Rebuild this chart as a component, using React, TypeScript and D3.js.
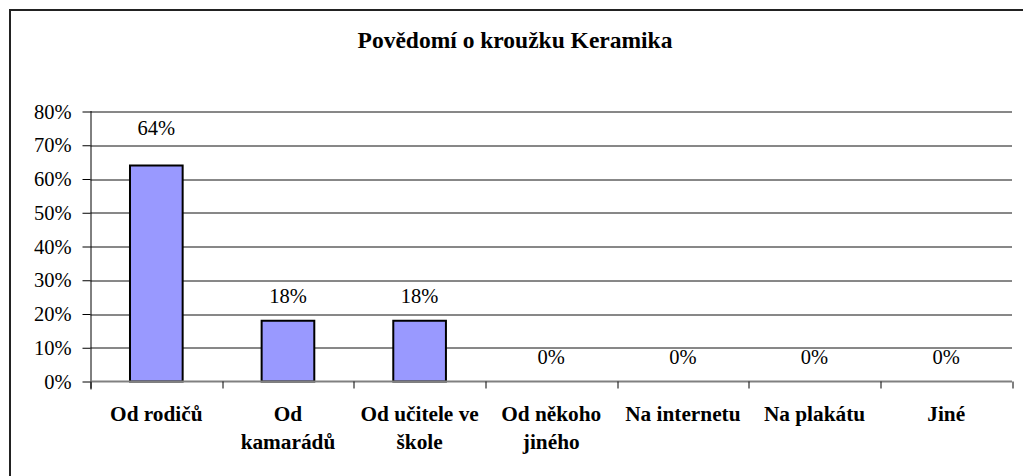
import { useEffect, useRef } from "react"
import * as d3 from "d3"

const title = "Povědomí o kroužku Keramika"
const categories = [
  "Od rodičů",
  "Od\nkamarádů",
  "Od učitele ve\nškole",
  "Od někoho\njiného",
  "Na internetu",
  "Na plakátu",
  "Jiné",
]
const values = [0.64, 0.18, 0.18, 0, 0, 0, 0]
const yTicks = [0, 0.1, 0.2, 0.3, 0.4, 0.5, 0.6, 0.7, 0.8]

const FONT = '"Liberation Serif", "Times New Roman", serif'

export default function App() {
  const svgRef = useRef<SVGSVGElement>(null)

  useEffect(() => {
    if (!svgRef.current) return
    const W = 1023
    const H = 476
    const margin = { top: 111.5, right: 11, bottom: 94.5, left: 90.5 }
    const innerW = W - margin.left - margin.right
    const innerH = H - margin.top - margin.bottom

    const svg = d3.select(svgRef.current)
    svg.selectAll("*").remove()
    svg.attr("width", W).attr("height", H)

    svg.append("rect").attr("width", W).attr("height", H).attr("fill", "#fff")

    // outer chart border, cut off at the right and bottom
    svg
      .append("rect")
      .attr("x", 10)
      .attr("y", 10)
      .attr("width", W + 20)
      .attr("height", H + 20)
      .attr("fill", "none")
      .attr("stroke", "#222")
      .attr("stroke-width", 2)

    svg
      .append("text")
      .attr("x", 515)
      .attr("y", 48)
      .attr("text-anchor", "middle")
      .style("font-family", FONT)
      .style("font-weight", "bold")
      .style("font-size", "23.5px")
      .text(title)

    const g = svg.append("g").attr("transform", `translate(${margin.left},${margin.top})`)

    const x = d3.scaleBand().domain(categories).range([0, innerW]).paddingInner(0.6).paddingOuter(0.3)
    const band = d3.scaleBand().domain(categories).range([0, innerW])
    const y = d3.scaleLinear().domain([0, 0.8]).range([innerH, 0])

    // Grid lines
    g.append("g")
      .selectAll("line")
      .data(yTicks.filter((d) => d > 0))
      .join("line")
      .attr("x1", 0)
      .attr("x2", innerW)
      .attr("y1", (d) => Math.round(y(d)) + 0.5)
      .attr("y2", (d) => Math.round(y(d)) + 0.5)
      .attr("stroke", "#111")

    // Y axis
    const yAxis = g
      .append("g")
      .call(d3.axisLeft(y).tickValues(yTicks).tickSize(8).tickPadding(11).tickFormat(d3.format(".0%")))
    yAxis.select(".domain").attr("stroke", "#000").attr("d", `M0.5,-0.5V${innerH + 8}`)
    yAxis.selectAll(".tick line").attr("stroke", "#000")
    yAxis
      .selectAll("text")
      .attr("fill", "#000")
      .style("font-family", FONT)
      .style("font-size", "20.5px")

    // Bars
    g.selectAll(".bar")
      .data(values)
      .join("rect")
      .attr("class", "bar")
      .attr("x", (_, i) => x(categories[i]) ?? 0)
      .attr("width", x.bandwidth())
      .attr("y", (d) => y(d))
      .attr("height", (d) => innerH - y(d))
      .attr("fill", "#9999ff")
      .attr("stroke", "#000")
      .attr("stroke-width", 2)

    // X axis
    g.append("line")
      .attr("x1", 0)
      .attr("x2", innerW)
      .attr("y1", innerH)
      .attr("y2", innerH)
      .attr("stroke", "#808080")
      .attr("stroke-width", 2)
    g.append("g")
      .selectAll("line")
      .data(d3.range(categories.length + 1))
      .join("line")
      .attr("x1", (i) => Math.round(i * band.step()) + 0.5)
      .attr("x2", (i) => Math.round(i * band.step()) + 0.5)
      .attr("y1", innerH)
      .attr("y2", innerH + 7)
      .attr("stroke", "#000")

    // Category labels
    const labels = g
      .append("g")
      .selectAll("text")
      .data(categories)
      .join("text")
      .attr("x", (d) => (band(d) ?? 0) + band.bandwidth() / 2)
      .attr("y", innerH + 39.5)
      .attr("text-anchor", "middle")
      .style("font-family", FONT)
      .style("font-weight", "bold")
      .style("font-size", "21.3px")
    labels
      .selectAll("tspan")
      .data((d) => d.split("\n"))
      .join("tspan")
      .attr("x", function () {
        return (this.parentNode as SVGTextElement).getAttribute("x")
      })
      .attr("dy", (_, i) => (i === 0 ? 0 : 28))
      .text((d) => d)

    // Value labels
    g.append("g")
      .selectAll("text")
      .data(values)
      .join("text")
      .attr("x", (_, i) => (band(categories[i]) ?? 0) + band.bandwidth() / 2)
      .attr("y", (d) => y(d) - (d > 0.5 ? 31 : 17.5))
      .attr("text-anchor", "middle")
      .style("font-family", FONT)
      .style("font-size", "20.5px")
      .text((d) => d3.format(".0%")(d))
  }, [])

  return (
    <div style={{ position: "fixed", left: 0, top: 0 }}>
      <svg ref={svgRef} style={{ display: "block" }} />
    </div>
  )
}
